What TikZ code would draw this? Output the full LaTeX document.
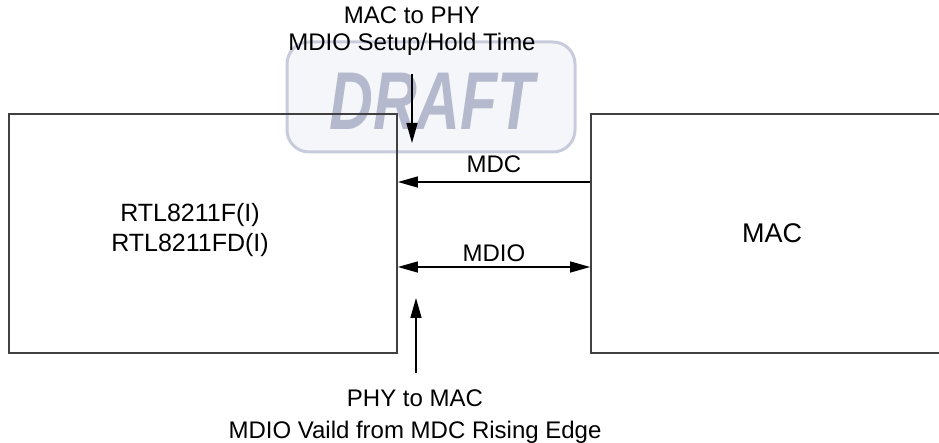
\documentclass[tikz,border=0pt]{standalone}
\usepackage{fontspec}
\setmainfont{Liberation Sans}
\usepackage{xcolor}
\usepackage{tikz}
\usetikzlibrary{arrows.meta}

\definecolor{wmline}{HTML}{C8CBDB}
\definecolor{wmfill}{HTML}{F5F6F9}
\definecolor{wmtext}{HTML}{B5B9CD}

\tikzset{
    chipbox/.style={draw=black!75, line width=1.8pt, inner sep=0pt},
    sig/.style={line width=1.4pt, -{Triangle[length=20pt,width=11pt]}},
    lbl/.style={font=\fontsize{24}{30}\selectfont, inner sep=0pt, align=center}
}

\begin{document}
\begin{tikzpicture}[x=1pt, y=-1pt]
        \useasboundingbox (0,0) rectangle (939,443);

        % watermark
        \node[draw=wmline, fill=wmfill, line width=3pt, rounded corners=22pt,
              minimum width=288pt, minimum height=110pt] (wm) at (431,97) {};
        \node[text=wmtext, inner sep=0pt] (draft) at (432,101)
            {\scalebox{0.74}[1]{\fontsize{82}{82}\selectfont\bfseries\itshape DRAFT}};

        \node[chipbox, minimum width=388pt, minimum height=239pt] (phy) at (203,233.5) {};
        \node[chipbox, minimum width=362pt, minimum height=239pt, lbl,
              font=\fontsize{27}{30}\selectfont] (mac) at (772,233.5) {MAC};
        \node[lbl, anchor=north, font=\fontsize{25}{30}\selectfont] (phylbl) at (190,203)
            {RTL8211F(I)\\RTL8211FD(I)};

        \coordinate (mdcy) at (0,182);
        \coordinate (mdioy) at (0,267);
        \draw[sig] (mac.west |- mdcy) -- (phy.east |- mdcy)
            node[lbl, midway, above=9pt] (mdclbl) {MDC};
        \draw[sig, {Triangle[length=20pt,width=11pt]}-{Triangle[length=20pt,width=11pt]}]
            (phy.east |- mdioy) -- (mac.west |- mdioy)
            node[lbl, midway, above=5pt] (mdiolbl) {MDIO};

        \node[lbl, anchor=north, font=\fontsize{24}{27}\selectfont] (setuplbl) at (412,7)
            {MAC to PHY\\MDIO Setup/Hold Time};
        \coordinate (setup) at (412,143);
        \draw[sig] ([yshift=-18pt]setuplbl.south -| setup) -- (setup);

        \node[lbl, anchor=north, font=\fontsize{24}{32}\selectfont] (validlbl) at (415,390)
            {PHY to MAC\\MDIO Vaild from MDC Rising Edge};
        \coordinate (valid) at (416,298);
        \draw[sig] ([yshift=17pt]validlbl.north -| valid) -- (valid);
    \end{tikzpicture}
\end{document}
